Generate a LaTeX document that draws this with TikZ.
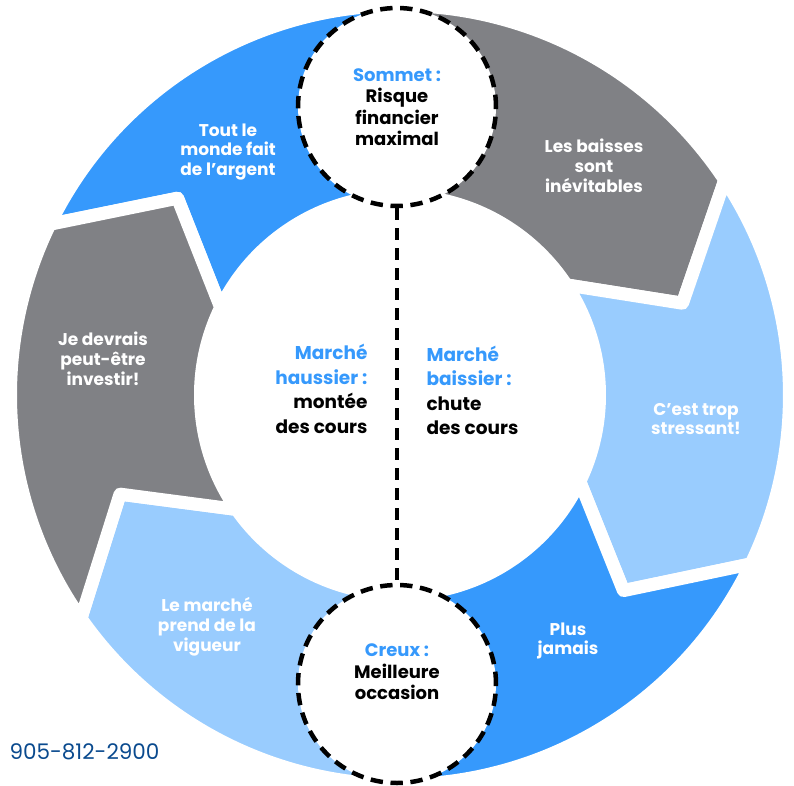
\documentclass[tikz,border=0pt]{standalone}
\usepackage{fontspec}
\setmainfont{Poppins}
\usepackage{tikz}
\usetikzlibrary{calc}

\definecolor{cycleblue}{RGB}{54,153,252}
\definecolor{cyclelight}{RGB}{153,204,254}
\definecolor{cyclegray}{RGB}{128,129,133}
\definecolor{phoneblue}{RGB}{10,74,142}

\def\ringout{389.5pt}
\def\ringmid{297pt}
\def\ringin{199.5pt}
\def\ringpiece[#1](#2:#3:#4:#5){\filldraw[#1] (#2:\ringout) arc (#2:#3:\ringout) -- ({#3-#5}:\ringmid) -- (#3:\ringin) arc (#3:#2:\ringin) -- ({#2-#4}:\ringmid) -- cycle;}
\newcommand\hl[1]{\textcolor{cycleblue}{#1}}

\begin{document}
\begin{tikzpicture}[x=1pt, y=1pt,
	piece/.style={draw=white, line width=13pt, line join=round},
	peak/.style={circle, draw=black, fill=white, line width=4.5pt, dash pattern=on 12.4pt off 7.6pt, minimum size=198pt, inner sep=0pt},
	divider/.style={draw=black, line width=4pt, dash pattern=on 12pt off 8pt},
	lbl/.style={text=white, align=center, font=\bfseries\fontsize{17}{19.8}\selectfont},
	ctext/.style={align=center, font=\bfseries\fontsize{18}{21.5}\selectfont},
	mtext/.style={font=\bfseries\fontsize{18.5}{24.5}\selectfont}]
	%%%%% START %%%%%
	\useasboundingbox (-400, -390) rectangle (394, 395);
	
	\ringpiece[piece, fill=cycleblue](154:90:15.5:0)
	\ringpiece[piece, fill=cyclegray](90:33.5:0:15.5)
	\ringpiece[piece, fill=cyclelight](33.5:-25.7:15.5:15.5)
	\ringpiece[piece, fill=cycleblue](-25.7:-90:15.5:0)
	\ringpiece[piece, fill=cyclelight](270:215:0:15.5)
	\ringpiece[piece, fill=cyclegray](215:154:15.5:15.5)
	
	\node[peak] (sommet) at (-3, 288) {};
	\node[peak] (creux) at (-3, -289) {};
	\draw[divider] (sommet.south) -- (creux.north);
	
	\node[ctext] (sommettxt) at (-3, 288) {\hl{Sommet :}\\Risque\\financier\\maximal};
	\node[ctext] (creuxtxt) at (-3, -277) {\hl{Creux :}\\Meilleure\\occasion};
	
	\node[mtext, anchor=east, align=right] (hauss) at (-29, 6) {\hl{Marché}\\\hl{haussier :}\\montée\\des cours};
	\node[mtext, anchor=west, align=left] (baiss) at (23, 4.5) {\hl{Marché}\\\hl{baissier :}\\chute\\des cours};
	
	\node[lbl] (tout) at (-172, 243) {Tout le\\monde fait\\de l’argent};
	\node[lbl] (baisses) at (194, 229) {Les baisses\\sont\\inévitables};
	\node[lbl] (stress) at (296, -24) {C’est trop\\stressant!};
	\node[lbl] (jamais) at (168, -246) {Plus\\jamais};
	\node[lbl] (vigueur) at (-193, -232) {Le marché\\prend de la\\vigueur};
	\node[lbl] (devrais) at (-297, 36) {Je devrais\\peut-être\\investir!};
	
	\node[anchor=west, text=phoneblue, font=\fontsize{21.5}{25}\selectfont] (phone) at (-394, -357) {905-812-2900};
	%%%%% END %%%%%
\end{tikzpicture}
\end{document}
